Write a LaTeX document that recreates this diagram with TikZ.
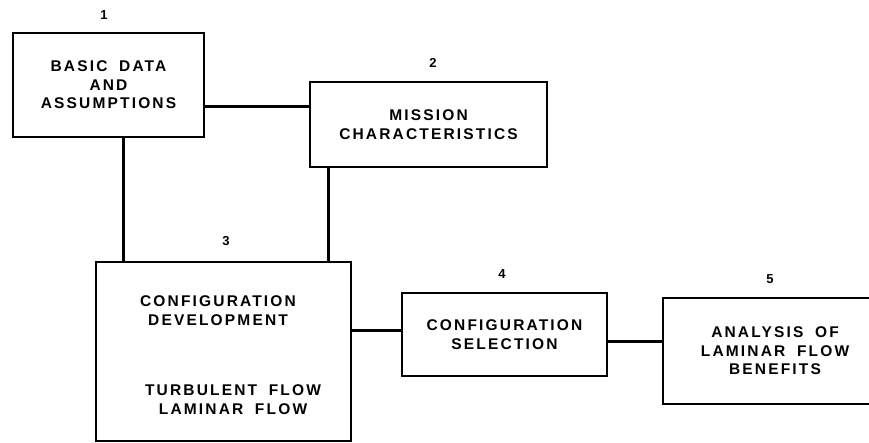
\documentclass[tikz,border=0pt]{standalone}
\usepackage{fontspec}
\setmainfont{Liberation Sans}
\newfontfamily\lettering{Liberation Sans}[LetterSpace=14, WordSpace=1.8]
\usetikzlibrary{positioning}

\begin{document}
\begin{tikzpicture}[x=1pt, y=-1pt,
		block/.style={draw, line width=2pt, rectangle, inner sep=0pt, align=center,
			font=\lettering\bfseries\fontsize{15.5}{18.5}\selectfont},
		txt/.style={inner sep=0pt, align=center, font=\lettering\bfseries\fontsize{15.5}{18.5}\selectfont},
		num/.style={inner sep=0pt, font=\bfseries\fontsize{13}{15}\selectfont},
		link/.style={line width=3pt}]
		% 画布
		\useasboundingbox (0,0) rectangle (869,443);
		
		% 方框
		\node[block, minimum width=191pt, minimum height=104pt] (basic) at (108.5,85) {BASIC DATA\\AND\\ASSUMPTIONS};
		\node[block, minimum width=237pt, minimum height=85pt] (mission) at (428.5,124.5) {MISSION\\CHARACTERISTICS};
		\node[block, minimum width=255pt, minimum height=179pt] (config) at (223.5,351.5) {};
		\node[block, minimum width=205pt, minimum height=83pt] (select) at (504.5,334.5) {CONFIGURATION\\SELECTION};
		\node[block, minimum width=224pt, minimum height=106pt] (analysis) at (775,351) {ANALYSIS OF\\LAMINAR FLOW\\BENEFITS};
		
		% 方框3内文字
		\node[txt] (develop) at (218,310.5) {CONFIGURATION\\DEVELOPMENT};
		\node[txt] (flows) at (233,399.5) {TURBULENT FLOW\\LAMINAR FLOW};
		
		% 编号
		\node[num] (n1) at (104,15) {1};
		\node[num] (n2) at (433,63) {2};
		\node[num] (n3) at (226,241) {3};
		\node[num] (n4) at (502,274) {4};
		\node[num] (n5) at (770,279) {5};
		
		% 连线
		\draw[link] ([yshift=-22pt]basic.east) -- ([yshift=-22pt]basic.east -| mission.west);
		\draw[link] ([xshift=14.5pt]basic.south) -- ([xshift=14.5pt]basic.south |- config.north);
		\draw[link] ([xshift=19pt]mission.south west) -- ([xshift=19pt]mission.south west |- config.north);
		\draw[link] ([yshift=21.5pt]config.east) -- ([yshift=21.5pt]config.east -| select.west);
		\draw[link] ([yshift=-6.5pt]select.east) -- ([yshift=-6.5pt]select.east -| analysis.west);
	\end{tikzpicture}
\end{document}
